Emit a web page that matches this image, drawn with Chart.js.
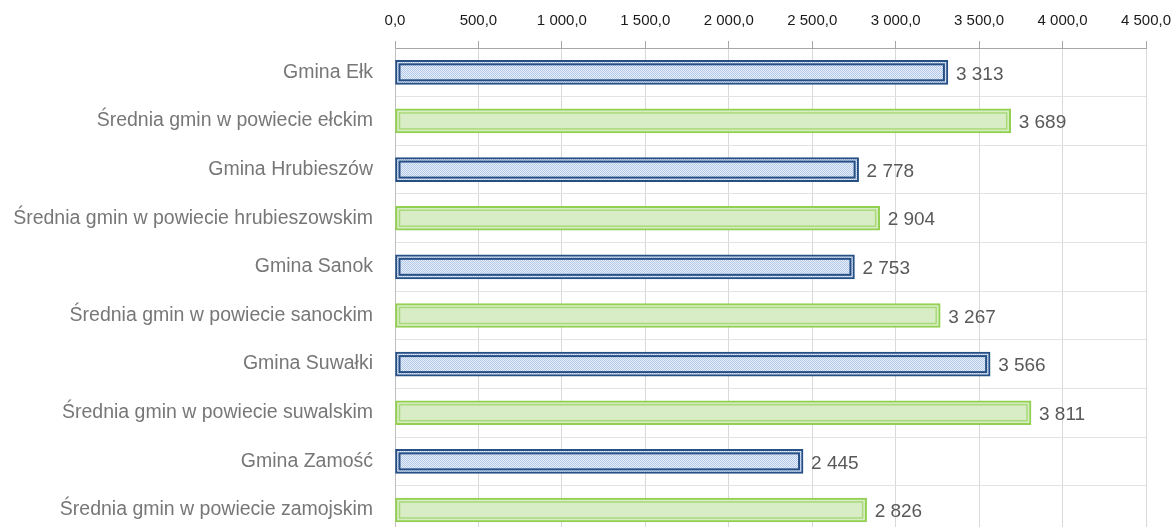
<!DOCTYPE html>
<html>
<head>
<meta charset="utf-8">
<script src="https://cdn.jsdelivr.net/npm/chart.js@4/dist/chart.umd.min.js"></script>
<style>
  html, body { margin: 0; padding: 0; background: #fff; overflow: hidden; }
  canvas { display: block; }
</style>
</head>
<body>
<canvas id="chart" width="1171" height="568"></canvas>
<script>
// data
let categories = [
  "Gmina Ełk",
  "Średnia gmin w powiecie ełckim",
  "Gmina Hrubieszów",
  "Średnia gmin w powiecie hrubieszowskim",
  "Gmina Sanok",
  "Średnia gmin w powiecie sanockim",
  "Gmina Suwałki",
  "Średnia gmin w powiecie suwalskim",
  "Gmina Zamość",
  "Średnia gmin w powiecie zamojskim"
];
let values = [3313, 3689, 2778, 2904, 2753, 3267, 3566, 3811, 2445, 2826];
let axisMin = 0;
let axisMax = 4500;
let axisStep = 500;

let FONT = "'Liberation Sans', Arial, sans-serif";

// polish style number: space for thousands
function fmt(n, dec) {
  let s = n.toFixed(dec);
  let parts = s.split(".");
  parts[0] = parts[0].replace(/\B(?=(\d{3})+(?!\d))/g, " ");
  return parts.join(",");
}

// dotted fill for the "gmina" bars
function makeDots() {
  let c = document.createElement("canvas");
  c.width = 2; c.height = 2;
  let x = c.getContext("2d");
  x.fillStyle = "#e6eef9";
  x.fillRect(0, 0, 2, 2);
  x.fillStyle = "#b4c9e8";
  x.fillRect(0, 0, 1, 1);
  x.fillRect(1, 1, 1, 1);
  return x.createPattern(c, "repeat");
}

let ctx = document.getElementById("chart").getContext("2d");
let dots = makeDots();

let isGmina = values.map((v, i) => i % 2 === 0);
let fills = isGmina.map(g => g ? dots : "#d8edc5");
let borders = isGmina.map(g => g ? "#264f85" : "#92d050");
let inner = isGmina.map(g => g ? "#264f85" : "#a9da7a");

// second (inner) outline + value labels
let barExtras = {
  id: "barExtras",
  afterDatasetsDraw(chart) {
    let c = chart.ctx;
    let meta = chart.getDatasetMeta(0);
    c.save();
    meta.data.forEach((bar, i) => {
      let p = bar.getProps(["x", "y", "base", "height"], true);
      let left = p.base + 4, right = p.x - 4;
      let top = p.y - p.height / 2 + 4, bottom = p.y + p.height / 2 - 4;
      c.strokeStyle = inner[i];
      c.lineWidth = isGmina[i] ? 2 : 1.5;
      c.strokeRect(left, top, right - left, bottom - top);

      c.fillStyle = "#595959";
      c.font = "19px " + FONT;
      c.textAlign = "left";
      c.textBaseline = "middle";
      c.fillText(fmt(values[i], 0), p.x + 8, p.y + 2);
    });
    c.restore();
  }
};

new Chart(ctx, {
  type: "bar",
  data: {
    labels: categories,
    datasets: [{
      data: values,
      backgroundColor: fills,
      borderColor: borders,
      borderWidth: 2,
      borderSkipped: false,
      barThickness: 24
    }]
  },
  plugins: [barExtras],
  options: {
    indexAxis: "y",
    responsive: false,
    animation: false,
    layout: { padding: { left: 0, right: 0, top: 1, bottom: 0 } },
    plugins: {
      legend: { display: false },
      tooltip: { enabled: false }
    },
    scales: {
      x: {
        position: "top",
        min: axisMin,
        max: axisMax,
        afterFit(scale) { scale.paddingRight = 25; },
        ticks: {
          stepSize: axisStep,
          color: "#1a1a1a",
          font: { family: FONT, size: 15 },
          padding: 11,
          maxRotation: 0,
          callback: v => fmt(v, 1)
        },
        grid: {
          color: "#d9d9d9",
          lineWidth: 1,
          tickLength: 7,
          tickColor: "#a6a6a6"
        },
        border: { color: "#a6a6a6", width: 1 }
      },
      y: {
        afterFit(scale) { scale.width = 395; },
        ticks: {
          color: "#777777",
          font: { family: FONT, size: 19.5 },
          padding: 22
        },
        grid: {
          color: "#e3e3e3",
          lineWidth: 1,
          offset: true,
          drawTicks: false
        },
        border: { color: "#bfbfbf", width: 1 }
      }
    }
  }
});
</script>
</body>
</html>
